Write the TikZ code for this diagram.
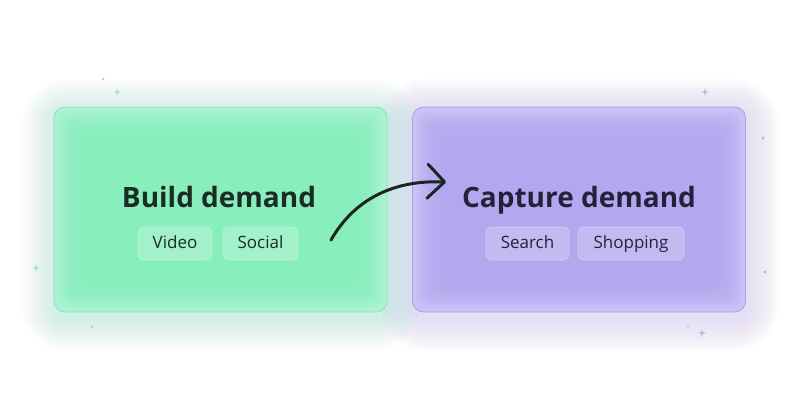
\documentclass[tikz,border=0pt]{standalone}
\usepackage{fontspec}
\setmainfont{Open Sans}
\usetikzlibrary{arrows.meta}
\definecolor{gedge}{HTML}{A9F3D0}
\definecolor{gmid}{HTML}{86EEBC}
\definecolor{gline}{HTML}{93DDB8}
\definecolor{gglow}{HTML}{9AF0C6}
\definecolor{pedge}{HTML}{CAC2F6}
\definecolor{pmid}{HTML}{B2A7EF}
\definecolor{pline}{HTML}{ABA0E2}
\definecolor{pglow}{HTML}{C2B8F4}
\definecolor{gtext}{HTML}{1B2B26}
\definecolor{ptext}{HTML}{24223A}
\definecolor{arrowc}{HTML}{1E2424}
\definecolor{sparkg}{HTML}{9FE3C2}
\definecolor{sparkp}{HTML}{B9B1E6}
\tikzset{
  card/.style={draw, line width=0.8pt, rounded corners=11pt, minimum width=333pt, minimum height=205pt},
  title/.style={font=\fontsize{28}{30}\selectfont\bfseries, anchor=base},
  pill/.style={rounded corners=6pt, fill=white, fill opacity=0.22, draw=white, draw opacity=0.35, line width=0.6pt,
    text opacity=1, minimum height=33pt, inner xsep=0pt, text height=12.5pt, text depth=3.5pt,
    font=\fontsize{17}{19}\selectfont},
}
\newcommand{\mystar}[3]{\fill[#3] (#1-4,#2) -- (#1-0.8,#2-0.8) -- (#1,#2-4) -- (#1+0.8,#2-0.8) -- (#1+4,#2) -- (#1+0.8,#2+0.8) -- (#1,#2+4) -- (#1-0.8,#2+0.8) -- cycle;}
\begin{document}
\begin{tikzpicture}[x=1pt,y=-1pt]
\useasboundingbox (0,0) rectangle (800,420);
\fill[white] (0,0) rectangle (800,420);
% outer glows
\foreach \i in {1,...,22} {
  \fill[gglow, opacity=0.018, rounded corners=11+\i*1.6] (54-\i*1.5,112-\i*1.5) rectangle (387+\i*1.5,318+\i*1.5);
  \fill[pglow, opacity=0.018, rounded corners=11+\i*1.6] (412-\i*1.5,112-\i*1.5) rectangle (746+\i*1.5,318+\i*1.5);
}
% cards
\node[card, fill=gedge, draw=gline] (build) at (220.5,209.5) {};
\node[card, fill=pedge, draw=pline] (capture) at (579,209.5) {};
% inner gradient
\foreach \i in {1,...,11} {
  \fill[gmid, opacity=0.17, rounded corners=10] (54+2+\i*2.6,107+2+\i*2.6) rectangle (387-2-\i*2.6,312-2-\i*2.6);
  \fill[pmid, opacity=0.17, rounded corners=10] (412+2+\i*2.6,107+2+\i*2.6) rectangle (746-2-\i*2.6,312-2-\i*2.6);
}
% titles
\node[title, text=gtext] (buildt) at (219,207) {Build demand};
\node[title, text=ptext] (capturet) at (579,207) {Capture demand};
% pills
\node[pill, minimum width=74pt, text=gtext] (video) at (175,243.5) {Video};
\node[pill, minimum width=75pt, text=gtext] (social) at (260.5,243.5) {Social};
\node[pill, minimum width=83pt, text=ptext] (search) at (527.5,243.5) {Search};
\node[pill, minimum width=106pt, text=ptext] (shopping) at (631,243.5) {Shopping};
% arrow
\coordinate (astart) at (331,240);
\coordinate (aend) at (446,182);
\draw[arrowc, line width=3pt, line cap=round, -{Straight Barb[length=17pt,width=34pt,round,line width=3pt]}]
  (astart) .. controls (355,198) and (395,180) .. (aend);
% sparkles
\mystar{117}{92}{sparkg}
\mystar{36}{268}{sparkg}
\fill[sparkg] (103,79) circle (1.4);
\fill[sparkg] (92,327) circle (1.6);
\mystar{705}{92}{sparkp}
\mystar{702}{333}{sparkp}
\fill[sparkp] (763,138) circle (1.6);
\fill[sparkp] (765,272) circle (1.6);
\fill[sparkp!70] (688,327) circle (1.3);
\end{tikzpicture}
\end{document}
